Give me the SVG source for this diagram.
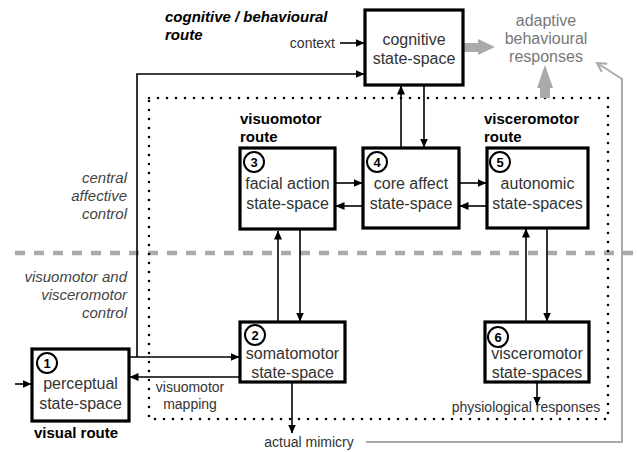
<svg xmlns="http://www.w3.org/2000/svg" width="638" height="452" viewBox="0 0 638 452">
<style>
.box{fill:#fff;stroke:#000;stroke-width:3.2}
.bt{font-family:"Liberation Sans",Arial,sans-serif;font-size:16px;fill:#333;text-anchor:middle}
.num{font-family:"Liberation Sans",Arial,sans-serif;font-size:13px;font-weight:bold;fill:#000;text-anchor:middle}
.circ{fill:#fff;stroke:#000;stroke-width:2}
.route{font-family:"Liberation Sans",Arial,sans-serif;font-size:15px;font-weight:bold;fill:#000}
.ital{font-family:"Liberation Sans",Arial,sans-serif;font-size:15px;font-style:italic;fill:#444;text-anchor:end}
.small{font-family:"Liberation Sans",Arial,sans-serif;font-size:14px;fill:#333}
.gray{font-family:"Liberation Sans",Arial,sans-serif;font-size:16px;fill:#777;text-anchor:middle}
.conn{fill:none;stroke:#000;stroke-width:1.6}
</style>
<defs>
<marker id="ah" markerWidth="9" markerHeight="8" refX="8.5" refY="4" orient="auto" markerUnits="userSpaceOnUse">
<path d="M0,0 L9,4 L0,8 Z" fill="#000"/>
</marker>
<marker id="gh" markerWidth="12" markerHeight="12" refX="10" refY="6" orient="auto" markerUnits="userSpaceOnUse">
<path d="M1,1 L10,6 L1,11" fill="none" stroke="#aaa" stroke-width="2"/>
</marker>
</defs>

<!-- background regions -->
<line x1="15" y1="253" x2="638" y2="253" stroke="#aaa" stroke-width="4.5" stroke-dasharray="10 9"/>
<rect x="149" y="98" width="459" height="321" fill="none" stroke="#000" stroke-width="2.6" stroke-dasharray="0 9" stroke-linecap="round"/>

<!-- labels -->
<text class="route" font-style="italic" x="165" y="22">cognitive / behavioural</text>
<text class="route" font-style="italic" x="165" y="40">route</text>
<text class="route" x="240" y="124">visuomotor</text>
<text class="route" x="240" y="142">route</text>
<text class="route" x="484" y="124">visceromotor</text>
<text class="route" x="484" y="142">route</text>
<text class="route" x="76" y="438" text-anchor="middle">visual route</text>
<text class="ital" x="127" y="183">central</text>
<text class="ital" x="127" y="201">affective</text>
<text class="ital" x="127" y="219">control</text>
<text class="ital" x="127" y="282">visuomotor and</text>
<text class="ital" x="127" y="300">visceromotor</text>
<text class="ital" x="127" y="318">control</text>
<text class="small" x="335" y="48" text-anchor="end" font-size="15">context</text>
<text class="small" x="190" y="392" text-anchor="middle">visuomotor</text>
<text class="small" x="190" y="409" text-anchor="middle">mapping</text>
<text class="small" x="526" y="412" text-anchor="middle" font-size="13.5">physiological responses</text>
<text class="small" x="309" y="447" text-anchor="middle">actual mimicry</text>
<text class="gray" x="546" y="26">adaptive</text>
<text class="gray" x="546" y="44">behavioural</text>
<text class="gray" x="546" y="62">responses</text>

<!-- gray connectors -->
<g id="gray-connectors">
<polygon points="463,43 478,43 478,39 495,47 478,55 478,52 463,52" fill="#aaa"/>
<polygon points="540,98 540,88 537,88 545,65 553,88 550,88 550,98" fill="#aaa"/>
<path d="M366,442 H622 V79 L597,63" fill="none" stroke="#aaa" stroke-width="2" marker-end="url(#gh)"/>
</g>

<!-- connectors -->
<g id="connectors">
<line class="conn" x1="340" y1="43" x2="364" y2="43" marker-end="url(#ah)"/>
<path class="conn" d="M137,357 V74 H364" marker-end="url(#ah)"/>
<line class="conn" x1="129" y1="357" x2="239" y2="357" marker-end="url(#ah)"/>
<line class="conn" x1="240" y1="377" x2="130" y2="377" marker-end="url(#ah)"/>
<line class="conn" x1="15" y1="384" x2="31" y2="384" marker-end="url(#ah)"/>
<line class="conn" x1="278" y1="322" x2="278" y2="231" marker-end="url(#ah)"/>
<line class="conn" x1="300" y1="230" x2="300" y2="321" marker-end="url(#ah)"/>
<line class="conn" x1="335" y1="183" x2="362" y2="183" marker-end="url(#ah)"/>
<line class="conn" x1="363" y1="206" x2="336" y2="206" marker-end="url(#ah)"/>
<line class="conn" x1="459" y1="183" x2="486" y2="183" marker-end="url(#ah)"/>
<line class="conn" x1="487" y1="206" x2="460" y2="206" marker-end="url(#ah)"/>
<line class="conn" x1="401" y1="148" x2="401" y2="86" marker-end="url(#ah)"/>
<line class="conn" x1="424" y1="85" x2="424" y2="147" marker-end="url(#ah)"/>
<line class="conn" x1="526" y1="322" x2="526" y2="229" marker-end="url(#ah)"/>
<line class="conn" x1="547" y1="228" x2="547" y2="321" marker-end="url(#ah)"/>
<line class="conn" x1="537" y1="382" x2="537" y2="405" marker-end="url(#ah)"/>
<line class="conn" x1="292" y1="382" x2="292" y2="433" marker-end="url(#ah)"/>
</g>

<!-- nodes -->
<g id="cognitive">
<rect class="box" x="365" y="10" width="98" height="75"/>
<text class="bt" x="414" y="45">cognitive</text>
<text class="bt" x="414" y="64">state-space</text>
</g>
<g id="node1">
<rect class="box" x="32" y="349" width="97" height="72"/>
<circle class="circ" cx="47" cy="363" r="10"/>
<text class="num" x="47" y="368">1</text>
<text class="bt" x="80.5" y="389">perceptual</text>
<text class="bt" x="80.5" y="409">state-space</text>
</g>
<g id="node2">
<rect class="box" x="240" y="322" width="105" height="60"/>
<circle class="circ" cx="255" cy="335" r="10"/>
<text class="num" x="255" y="340">2</text>
<text class="bt" x="292.5" y="359">somatomotor</text>
<text class="bt" x="292.5" y="378">state-space</text>
</g>
<g id="node3">
<rect class="box" x="240" y="148" width="95" height="81"/>
<circle class="circ" cx="254" cy="162" r="10"/>
<text class="num" x="254" y="167">3</text>
<text class="bt" x="287.5" y="189">facial action</text>
<text class="bt" x="287.5" y="209">state-space</text>
</g>
<g id="node4">
<rect class="box" x="363" y="148" width="96" height="80"/>
<circle class="circ" cx="377" cy="162" r="10"/>
<text class="num" x="377" y="167">4</text>
<text class="bt" x="411" y="189">core affect</text>
<text class="bt" x="411" y="209">state-space</text>
</g>
<g id="node5">
<rect class="box" x="487" y="148" width="101" height="80"/>
<circle class="circ" cx="500" cy="162" r="10"/>
<text class="num" x="500" y="167">5</text>
<text class="bt" x="537.5" y="189">autonomic</text>
<text class="bt" x="537.5" y="209">state-spaces</text>
</g>
<g id="node6">
<rect class="box" x="485" y="322" width="104" height="60"/>
<circle class="circ" cx="498" cy="337" r="10"/>
<text class="num" x="498" y="342">6</text>
<text class="bt" x="537" y="359">visceromotor</text>
<text class="bt" x="537" y="378">state-spaces</text>
</g>
</svg>
